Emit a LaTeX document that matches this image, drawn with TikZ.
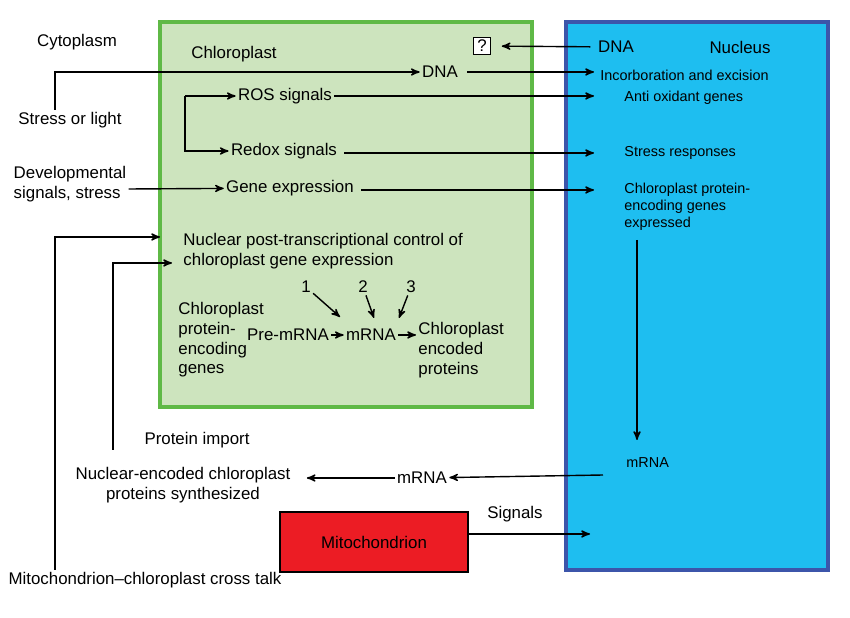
\documentclass[tikz,border=0pt]{standalone}
\usepackage{fontspec}
\setmainfont{Liberation Sans}
\usetikzlibrary{arrows,positioning}
\definecolor{chlfill}{RGB}{205,228,190}
\definecolor{chlline}{RGB}{95,185,70}
\definecolor{nucfill}{RGB}{30,190,240}
\definecolor{nucline}{RGB}{60,85,170}
\definecolor{mitfill}{RGB}{236,28,36}
\begin{document}
\begin{tikzpicture}[x=0.02cm,y=-0.02cm,>=stealth',thick,
	txt/.style={font=\fontsize{9.6}{11.2}\selectfont,inner sep=1pt},
	small/.style={font=\fontsize{8.2}{9.6}\selectfont,inner sep=1pt,anchor=west,align=left}]
	\useasboundingbox (0,0) rectangle (850,618);
	\draw[chlline,fill=chlfill,line width=2pt] (160,22) rectangle (532,407);
	\draw[nucline,fill=nucfill,line width=2pt] (566,22) rectangle (828,570);
	\node[draw,fill=mitfill,line width=1.2pt,minimum width=188*0.02cm,minimum height=60*0.02cm,txt] (mito) at (374,542) {Mitochondrion};
	\node[txt] (cyto) at (77,42) {Cytoplasm};
	\node[txt] (chl) at (234,54) {Chloroplast};
	\node[draw,fill=white,txt,minimum size=0.34cm] (q) at (482,46) {?};
	\node[txt] (ndna) at (616,47) {DNA};
	\node[txt] (nuc) at (740,47) {Nucleus};
	\node[txt] (stress) at (70,120) {Stress or light};
	\node[txt] (cdna) at (440,72) {DNA};
	\node[small] (incorb) at (598,75) {Incorboration and excision};
	\node[txt] (ros) at (285,96) {ROS signals};
	\node[txt] (redox) at (284,151) {Redox signals};
	\node[small] (anti) at (622,98) {Anti oxidant genes};
	\node[small] (sresp) at (622,153) {Stress responses};
	\node[txt,align=left] (dev) at (70,184) {Developmental\\signals, stress};
	\node[txt] (gene) at (290,188) {Gene expression};
	\node[small,anchor=north west] (cpeg) at (622,181) {Chloroplast protein-\\encoding genes\\expressed};
	\node[txt,align=left,anchor=west] (npt) at (181,251) {Nuclear post-transcriptional control of\\chloroplast gene expression};
	\node[txt] (n1) at (306,287) {1};
	\node[txt] (n2) at (363,287) {2};
	\node[txt] (n3) at (411,287) {3};
	\node[txt,align=left,anchor=west] (cpg) at (176,340) {Chloroplast\\protein-\\encoding\\genes};
	\node[txt] (pre) at (288,335) {Pre-mRNA};
	\node[txt] (cmrna) at (371,335) {mRNA};
	\node[txt,align=left,anchor=west] (cep) at (416,350) {Chloroplast\\encoded\\proteins};
	\node[small] (nmrna) at (624,463) {mRNA};
	\node[txt] (mrna) at (422,478) {mRNA};
	\node[txt,align=center] (nec) at (183,485) {Nuclear-encoded chloroplast\\proteins synthesized};
	\node[txt] (pimp) at (197,440) {Protein import};
	\node[txt] (sig) at (515,514) {Signals};
	\node[txt] (cross) at (145,580) {Mitochondrion--chloroplast cross talk};
	\coordinate (nuc1) at (594,72);
	\coordinate (nuc2) at (594,96);
	\coordinate (nuc3) at (594,153);
	\coordinate (nuc4) at (594,190);
	\coordinate (nuc5) at (590,534);
	\coordinate (bend) at (185,96);
	% arrows
	\draw[->,shorten <=3pt,shorten >=6pt] (ndna) -- (q);
	\draw[->] (stress.north -| 55,0) |- (cdna);
	\draw[->,shorten <=4pt] (cdna) -- (nuc1);
	\draw[->] (bend) -- (ros);
	\draw[->] (bend) |- (redox);
	\draw[->] (ros) -- (nuc2);
	\draw[->] (redox.east) ++(5,2) -- (nuc3);
	\draw[->] (dev.east |- gene) ++(0,1) -- (gene);
	\draw[->] (gene.east) ++(5,2) -- (nuc4);
	\draw[->] (cross.north -| 55,0) |- (160,237);
	\draw[->] (113,450) |- (172,263);
	\draw[->] (n1) -- (340,317);
	\draw[->] (n2) -- (374,318);
	\draw[->] (n3) -- (399,318);
	\draw[->] (pre) -- (cmrna);
	\draw[->] (cmrna) -- (cep.west |- cmrna);
	\draw[->] (637,240) -- (637,440);
	\draw[->] (603,475) -- (mrna);
	\draw[->,shorten >=8pt] (mrna) -- (nec.east |- mrna);
	\draw[->] (mito.east |- nuc5) -- (nuc5);
\end{tikzpicture}
\end{document}
